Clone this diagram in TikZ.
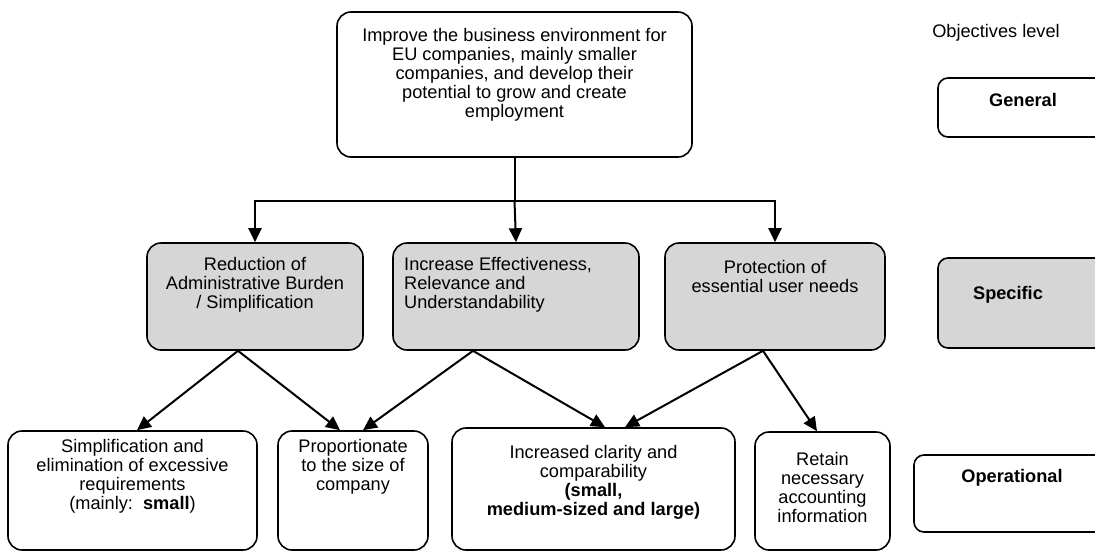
\documentclass[tikz,border=0pt]{standalone}
\usepackage{fontspec}
\setmainfont{Liberation Sans}
\usetikzlibrary{arrows.meta,calc}
\begin{document}
\begin{tikzpicture}[x=1pt,y=-1pt,
  box/.style={draw=black, line width=1.6pt, rounded corners=14pt, inner sep=0pt},
  shaded/.style={box, fill=black!16},
  txt/.style={inner sep=0pt, align=center, font=\fontsize{18.2}{19}\selectfont},
  txtl/.style={inner sep=0pt, align=left, font=\fontsize{18.2}{19}\selectfont},
  line/.style={draw=black, line width=2pt},
  arr/.style={line, -{Triangle[length=14pt,width=13pt]}}
]
\clip (0,0) rectangle (1095,552);
\fill[white] (0,0) rectangle (1095,552);

% top box
\node[box, minimum width=355pt, minimum height=145pt] (top) at (514.5,84.5) {};
\node[txt] (topt) at (514.5,75) {Improve the business environment for\\EU companies, mainly smaller\\companies, and develop their\\potential to grow and create\\employment};

% specific row
\node[shaded, minimum width=216pt, minimum height=107pt] (s1) at (255,296.5) {};
\node[txt] (s1t) at (255,285) {Reduction of\\Administrative Burden\\/ Simplification};
\node[shaded, minimum width=246pt, minimum height=107pt] (s2) at (516,296.5) {};
\node[txtl, anchor=west] (s2t) at (404,285) {Increase Effectiveness,\\Relevance and\\Understandability};
\node[shaded, minimum width=220pt, minimum height=107pt] (s3) at (775,296.5) {};
\node[txt] (s3t) at (775,276) {Protection of\\essential user needs};

% operational row
\node[box, minimum width=249pt, minimum height=119pt] (a) at (132.5,490.5) {};
\node[txt] (at) at (132.5,476) {Simplification and\\elimination of excessive\\requirements\\(mainly:\ \ \textbf{small})};
\node[box, minimum width=150pt, minimum height=119pt] (b) at (353,490.5) {};
\node[txt] (bt) at (353,467) {Proportionate\\to the size of\\company};
\node[box, minimum width=283pt, minimum height=122pt] (c) at (593.5,489) {};
\node[txt] (ct) at (593.5,482) {Increased clarity and\\comparability\\\textbf{(small,}\\\textbf{medium-sized and large)}};
\node[box, minimum width=135pt, minimum height=118pt] (d) at (822.5,491) {};
\node[txt] (dt) at (822.5,487) {Retain\\necessary\\accounting\\information};

% objectives level column
\node[txt] (objt) at (996,33) {Objectives level};
\node[box, minimum width=172pt, minimum height=59pt, rounded corners=10pt] (gen) at (1024,107.5) {};
\node[txt, font=\fontsize{18.2}{19}\selectfont\bfseries] (gent) at (1023,100) {General};
\node[shaded, minimum width=172pt, minimum height=90pt, rounded corners=10pt] (spec) at (1024,303) {};
\node[txt, font=\fontsize{18.2}{19}\selectfont\bfseries] (spect) at (1008,295) {Specific};
\node[box, minimum width=196pt, minimum height=77pt, rounded corners=10pt] (oper) at (1012,493.5) {};
\node[txt, font=\fontsize{18.2}{19}\selectfont\bfseries] (opert) at (1012,478) {Operational};

% connectors top -> specific
\coordinate (hub) at (514.5,201);
\draw[line] (top.south) -- (hub);
\draw[arr] (hub) -| (s1.north);
\draw[arr] (hub) -| (s3.north);
\draw[arr] (hub) -- (s2.north);

% connectors specific -> operational
\draw[arr] ($(s1.south)+(-17,0)$) -- ($(a.north)+(4.5,0)$);
\draw[arr] ($(s1.south)+(-17,0)$) -- ($(b.north)+(-13,0)$);
\draw[arr] ($(s2.south)+(-43,0)$) -- ($(b.north)+(10,0)$);
\draw[arr] ($(s2.south)+(-43,0)$) -- ($(c.north)+(11.5,0)$);
\draw[arr] ($(s3.south)+(-12,0)$) -- ($(c.north)+(31.5,0)$);
\draw[arr] ($(s3.south)+(-12,0)$) -- ($(d.north)+(-5.5,0)$);
\end{tikzpicture}
\end{document}
